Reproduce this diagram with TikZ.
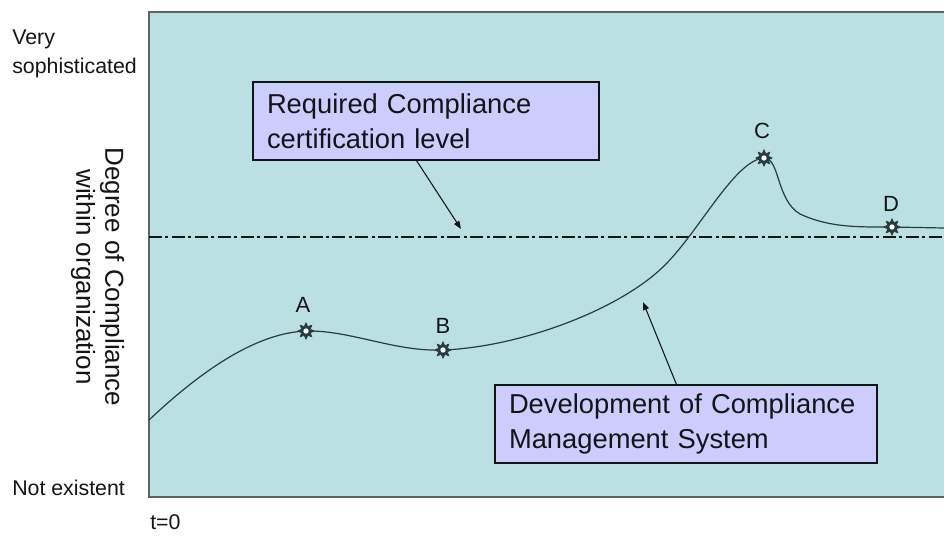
\documentclass[tikz,border=0pt]{standalone}
\usepackage{fontspec}
\setmainfont{Liberation Sans}
\usetikzlibrary{shapes.geometric,arrows.meta,calc}

\definecolor{panel}{RGB}{187,224,227}
\definecolor{panelrule}{RGB}{90,100,100}
\definecolor{notefill}{RGB}{204,204,255}
\definecolor{curveink}{RGB}{40,60,62}
\definecolor{ink}{RGB}{20,20,20}

\begin{document}
\begin{tikzpicture}[x=0.75pt,y=-0.75pt,
  note/.style={draw=ink, line width=0.8pt, fill=notefill, minimum height=58.5pt,
    inner xsep=10.5pt, inner ysep=0pt, align=left,
    font=\fontsize{20.5}{26}\selectfont, text=ink},
  sunstar/.style={star, star points=8, star point ratio=1.75, minimum size=12.5pt,
    inner sep=0pt, fill=curveink, draw=curveink, line width=0.4pt},
  suncore/.style={circle, fill=white, minimum size=4pt, inner sep=0pt},
  pointlabel/.style={font=\fontsize{16.5}{19}\selectfont, text=ink, inner sep=0pt},
  axislabel/.style={font=\fontsize{16}{21.75}\selectfont, text=ink, align=left, inner sep=0pt},
  pointer/.style={draw=ink, line width=0.8pt, -{Triangle[length=6pt,width=4.5pt]}},
  levelline/.style={draw=ink, line width=1.1pt,
    dash pattern=on 9.75pt off 2.6pt on 2.25pt off 2.6pt},
  devcurve/.style={draw=curveink, line width=0.9pt},
]
\useasboundingbox (0,0) rectangle (944,538);
\fill[white] (0,0) rectangle (944,538);

% plotting area, open to the right
\fill[panel] (149,12) rectangle (944,497);
\draw[panelrule, line width=1.6pt] (944,12) -- (149,12) -- (149,497) -- (944,497);

% axis captions
\node[axislabel, anchor=west] (high) at (12,54) {Very\\sophisticated};
\node[axislabel, anchor=base west] (low) at (12,495) {Not existent};
\node[axislabel, anchor=base west] (origin) at (150,529) {t=0};
\node[rotate=-90, align=center, font=\fontsize{19.5}{21.75}\selectfont, text=ink] (ylab)
  at (97.5,277) {Degree of Compliance\\within organization};

% required certification level
\coordinate (lvlL) at (149,237);
\coordinate (lvlR) at (944,237);
\draw[levelline] (lvlL) -- (lvlR);

% milestones on the development curve
\coordinate (s0) at (149,420);
\coordinate (pA) at (306,331);
\coordinate (pB) at (443,350);
\coordinate (pM) at (665,265);
\coordinate (pC) at (764,158);
\coordinate (pK) at (800,214);
\coordinate (pD) at (892,227);
\coordinate (s1) at (944,228);

\draw[devcurve] (s0) .. controls (200,372) and (255,333) .. (pA)
  .. controls (350,330) and (395,352) .. (pB)
  .. controls (520,347) and (620,310) .. (pM)
  .. controls (700,230) and (735,160) .. (pC)
  .. controls (780,158) and (776,200) .. (pK)
  .. controls (830,228) and (860,227) .. (pD)
  -- (s1);

\foreach \p in {A,B,C,D}{
  \node[sunstar] (m\p) at (p\p) {};
  \node[suncore] at (m\p) {};
}

\node[pointlabel] (lA) at (303,305) {A};
\node[pointlabel] (lB) at (443,326) {B};
\node[pointlabel] (lC) at (762,131) {C};
\node[pointlabel] (lD) at (891,204) {D};

% callouts
\node[note, minimum width=259.5pt, text width=238.5pt] (req) at (426,121)
  {Required Compliance\\certification level};
\node[note, minimum width=286.5pt, text width=265.5pt] (dev) at (686,424)
  {Development of Compliance\\Management System};

\coordinate (reqtip) at (461,229);
\coordinate (devtip) at (643,302);
\draw[pointer] ($(req.south west)+(164,0)$) -- (reqtip);
\draw[pointer] ($(dev.north west)+(182,0)$) -- (devtip);
\end{tikzpicture}
\end{document}
